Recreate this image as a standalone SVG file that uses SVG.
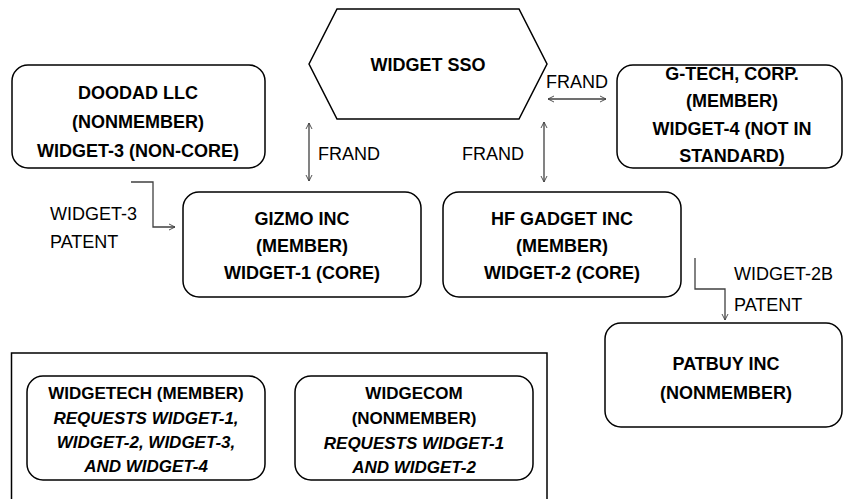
<svg xmlns="http://www.w3.org/2000/svg" width="843" height="499" viewBox="0 0 843 499">
<defs>
<style>
.box{fill:#fff;stroke:#000;stroke-width:1.5}
.b{font-family:"Liberation Sans",Arial,sans-serif;font-weight:bold;font-size:18px;text-anchor:middle;fill:#000}
.s{font-family:"Liberation Sans",Arial,sans-serif;font-weight:bold;font-size:17px;text-anchor:middle;fill:#000}
.i{font-style:italic}
.l{font-family:"Liberation Sans",Arial,sans-serif;font-size:18px;fill:#000}
.c{fill:none;stroke:#404040;stroke-width:1.3}
</style>
<marker id="ah" viewBox="0 0 10 10" refX="10" refY="5" markerWidth="6" markerHeight="8" markerUnits="userSpaceOnUse" orient="auto-start-reverse">
<path d="M0,0 L10,5 L0,10" fill="none" stroke="#404040" stroke-width="1.5"/>
</marker>
</defs>
<rect width="843" height="499" fill="#fff"/>
<g id="sso">
<polygon class="box" points="309,64 337,9 519,9 547,64 519,119 337,119"/>
<text class="b" x="428" y="71">WIDGET SSO</text>
</g>
<g id="doodad">
<rect class="box" x="12" y="65" width="253" height="103" rx="16"/>
<text class="b" x="138" y="99">DOODAD LLC</text>
<text class="b" x="138" y="128">(NONMEMBER)</text>
<text class="b" x="138" y="157">WIDGET-3 (NON-CORE)</text>
</g>
<g id="gtech">
<rect class="box" x="617" y="65" width="225" height="103" rx="16"/>
<text class="b" x="732" y="79.5">G-TECH, CORP.</text>
<text class="b" x="732" y="107">(MEMBER)</text>
<text class="b" x="732" y="134.5">WIDGET-4 (NOT IN</text>
<text class="b" x="732" y="161.5">STANDARD)</text>
</g>
<g id="gizmo">
<rect class="box" x="183" y="192" width="238" height="105" rx="16"/>
<text class="b" x="302" y="225">GIZMO INC</text>
<text class="b" x="302" y="252">(MEMBER)</text>
<text class="b" x="302" y="279">WIDGET-1 (CORE)</text>
</g>
<g id="hfgadget">
<rect class="box" x="443" y="192" width="238" height="105" rx="16"/>
<text class="b" x="562" y="225">HF GADGET INC</text>
<text class="b" x="562" y="252">(MEMBER)</text>
<text class="b" x="562" y="279">WIDGET-2 (CORE)</text>
</g>
<g id="patbuy">
<rect class="box" x="605" y="323" width="237" height="104" rx="16"/>
<text class="b" x="726" y="369.5">PATBUY INC</text>
<text class="b" x="726" y="398.5">(NONMEMBER)</text>
</g>
<g id="requesters">
<rect x="11.5" y="353" width="535.5" height="160" fill="none" stroke="#000" stroke-width="1.5"/>
</g>
<g id="widgetech">
<rect class="box" x="27" y="376" width="238" height="104" rx="16"/>
<text class="s" x="146" y="399">WIDGETECH (MEMBER)</text>
<text class="s i" x="146" y="424">REQUESTS WIDGET-1,</text>
<text class="s i" x="146" y="448">WIDGET-2, WIDGET-3,</text>
<text class="s i" x="146" y="472">AND WIDGET-4</text>
</g>
<g id="widgecom">
<rect class="box" x="295" y="376" width="238" height="104" rx="16"/>
<text class="s" x="414" y="399">WIDGECOM</text>
<text class="s" x="414" y="424">(NONMEMBER)</text>
<text class="s i" x="414" y="449">REQUESTS WIDGET-1</text>
<text class="s i" x="414" y="473">AND WIDGET-2</text>
</g>
<g id="connectors">
<path class="c" d="M309,123 V181" marker-start="url(#ah)" marker-end="url(#ah)"/>
<path class="c" d="M544,122 V182" marker-start="url(#ah)" marker-end="url(#ah)"/>
<path class="c" d="M548,99 H606" marker-start="url(#ah)" marker-end="url(#ah)"/>
<path class="c" d="M131,182 H153 V227 H175" marker-end="url(#ah)"/>
<path class="c" d="M695,258 V289 H725 V320" marker-end="url(#ah)"/>
<text class="l" x="318" y="159.5">FRAND</text>
<text class="l" x="462" y="159.5">FRAND</text>
<text class="l" x="546" y="88">FRAND</text>
<text class="l" x="50" y="219.5">WIDGET-3</text>
<text class="l" x="50" y="247.5">PATENT</text>
<text class="l" x="734" y="279.5">WIDGET-2B</text>
<text class="l" x="734" y="310.5">PATENT</text>
</g>
</svg>
